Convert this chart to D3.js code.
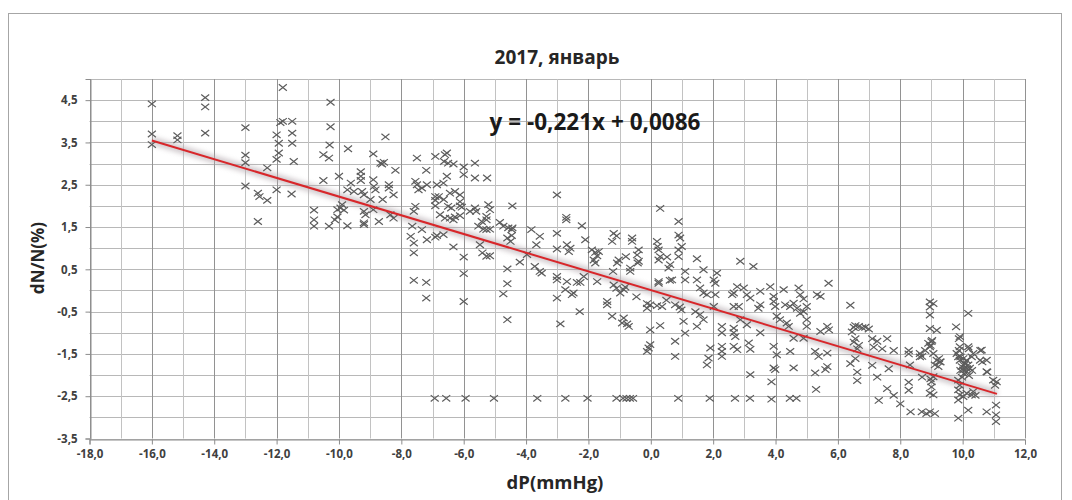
<!DOCTYPE html>
<html>
<head>
<meta charset="utf-8">
<script src="https://cdn.jsdelivr.net/npm/d3@7"></script>
<style>
  body { margin: 0; background: #fff; }
  svg { display: block; }
  .tick text { font-family: "Open Sans", sans-serif; font-weight: bold; font-size: 11.5px; fill: #404040; }
</style>
</head>
<body>
<div id="chart"></div>
<script>
// chart text
var title = "2017, январь";
var xTitle = "dP(mmHg)";
var yTitle = "dN/N(%)";
var equation = "y = -0,221x + 0,0086";

// linear trend
var slope = -0.221;
var intercept = 0.0086;
var trendRange = [-16, 11.1];

// tick labels
var xTicks = [-18, -16, -14, -12, -10, -8, -6, -4, -2, 0, 2, 4, 6, 8, 10, 12];
var yTicks = [-3.5, -2.5, -1.5, -0.5, 0.5, 1.5, 2.5, 3.5, 4.5];

// scatter points [dP, dN/N]
var points = [
  // left part
  [-16,4.41],[-16,3.70],[-16,3.45],[-15.18,3.66],[-15.18,3.56],[-14.29,4.56],[-14.29,4.34],[-14.29,3.72],
  [-13,3.85],[-13,3.2],[-13,3.02],[-13,2.47],[-12.6,2.3],[-12.3,2.9],[-12,3.1],[-12,3.68],[-12,2.38],
  [-11.93,3.48],[-11.93,3.25],[-11.88,3.97],[-11.8,4.8],[-11.8,4.0],[-11.5,4.0],[-11.5,3.72],[-11.5,3.48],
  [-11.45,3.05],[-11.52,2.28],[-10.27,4.45],[-10.27,3.87],[-12.55,2.22],[-12.3,2.13],[-12.6,1.63],
  // -11 .. -3
  [-10.8,1.9],[-10.8,1.67],[-10.8,1.52],[-10.32,1.52],[-10.5,3.21],[-10.32,3.13],[-10.3,3.44],[-10.5,2.6],
  [-10,2.7],[-10.13,1.67],[-10.05,1.74],[-10.05,1.91],[-9.95,1.95],[-9.9,2.03],[-9.84,1.9],[-9.73,1.53],
  [-9.71,3.35],[-9.73,2.38],[-9.62,2.54],[-9.52,2.34],[-9.3,2.81],[-9.3,2.7],[-9.3,2.6],[-9.26,2.34],
  [-9.2,2.26],[-9.2,1.87],[-9.15,1.79],[-9.2,1.6],[-9.2,1.56],[-8.99,2.15],[-8.9,3.23],[-8.9,2.62],
  [-8.88,2.46],[-8.83,2.38],[-8.9,1.91],[-8.72,1.63],[-8.67,3.01],[-8.6,2.15],[-8.62,2.99],[-8.56,3.03],
  [-8.51,3.63],[-8.4,2.5],[-8.4,2.42],[-8.25,2.26],[-8.19,2.84],[-8.35,1.79],[-8.25,1.71],
  [-7.5,3.13],[-7.2,2.84],[-7.55,2.58],[-7.5,2.5],[-7.34,2.42],[-7.45,2.38],[-7.18,2.5],[-6.91,3.17],
  [-6.6,3.21],[-6.54,3.25],[-6.63,3.05],[-6.5,3.01],[-6.33,2.99],[-6.0,2.92],[-6.0,2.74],[-5.64,3.01],
  [-5.64,2.66],[-5.25,2.66],[-6.54,2.7],[-6.65,2.54],[-6.86,2.5],
  [-6.91,2.22],[-6.91,2.13],[-6.91,2.0],[-6.8,2.22],[-6.64,2.15],[-6.44,2.3],[-6.28,2.34],[-6.12,2.26],
  [-6.12,2.1],[-6.12,2.0],[-6.06,1.97],[-6.5,1.99],[-6.4,1.95],
  [-6.76,1.79],[-6.6,1.71],[-6.44,1.71],[-6.28,1.74],[-6.33,1.67],[-6.12,1.77],[-5.8,1.87],[-5.64,1.95],
  [-5.6,1.87],[-5.21,2.03],[-5.27,1.75],[-5.27,1.67],[-5.42,1.63],[-5.53,1.52],[-5.16,1.91],[-4.44,2.0],
  [-7.55,1.99],[-7.6,1.87],[-7.65,1.52],[-7.34,1.44],[-7.7,1.28],[-7.6,1.12],[-7.6,0.89],[-7.18,1.2],
  [-6.91,1.26],[-6.86,1.3],[-6.65,1.32],[-6.33,1.03],[-6.0,0.79],[-6.0,0.4],[-6.0,-0.26],[-7.6,0.24],
  [-7.2,0.19],[-7.2,-0.18],
  [-5.37,1.45],[-5.27,1.44],[-5.16,1.45],[-5.48,1.08],[-5.4,0.89],[-5.27,0.81],[-5.16,0.82],[-4.84,1.61],
  [-4.73,1.52],[-4.57,1.48],[-4.46,1.44],[-4.46,1.3],[-4.6,1.24],[-4.5,1.16],[-4.44,1.48],[-4.6,0.51],
  [-4.6,0.16],[-4.73,-0.08],[-4.6,-0.69],
  [-3.83,1.44],[-3.56,1.28],[-3.67,1.08],[-4.2,0.67],[-3.97,0.85],[-3.72,0.57],[-3.56,0.45],[-3.5,0.41],
  // -3 .. 6
  [-3.01,2.26],[-2.71,1.73],[-2.71,1.67],[-3.01,1.35],[-3.01,0.98],[-3.01,0.33],[-3.01,0.25],[-3.01,-0.18],
  [-2.9,-0.79],[-2.69,1.08],[-2.58,1.0],[-2.63,0.92],[-2.21,1.53],[-2.1,1.2],[-2.69,0.21],[-2.37,0.19],
  [-2.26,0.19],[-2.48,-0.06],[-2.53,-0.1],[-2.74,0.02],[-2.28,-0.5],[-2.15,0.33],
  [-1.89,0.96],[-1.78,0.9],[-1.72,0.82],[-1.83,0.72],[-1.78,0.65],[-1.67,0.92],[-1.72,0.21],[-1.4,-0.26],
  [-1.4,-0.34],[-1.24,-0.61],[-1.19,1.35],[-1.1,1.29],[-1.24,1.16],[-1.03,0.72],[-1.08,0.65],[-1.21,0.45],
  [-0.8,0.8],[-0.42,0.65],[-0.66,0.53],[-0.87,0.02],[-0.98,-0.06],[-0.76,-0.79],[-0.87,-0.65],[-0.71,-0.85],
  [-0.92,-0.77],[-0.82,0.08],[-0.66,0.45],[-1.19,0.13],[-1.1,0.05],[-0.46,-0.15],
  [-0.6,1.24],[-0.6,1.16],[-0.39,0.96],[-0.44,0.84],[-0.39,0.69],
  [-0.12,-0.31],[-0.02,-0.34],[-0.12,-0.42],[0.2,-0.36],[-0.07,-1.36],[-0.02,-1.28],[-0.12,-1.44],
  [-0.02,-0.93],[0.3,-0.83],[0.5,-0.23],[0.61,0.24],[0.93,-0.39],[0.98,-0.46],
  [0.25,0.17],[0.25,0.21],[0.2,1.16],[0.22,1.04],[0.25,0.96],[0.3,0.8],[0.25,0.72],[0.3,1.94],[0.52,0.79],
  [0.62,0.61],[0.57,0.53],[0.68,0.25],[0.36,-0.38],[0.78,-0.34],[0.78,-1.2],[0.78,-1.56],[0.89,1.63],
  [0.89,1.31],[0.94,1.24],[0.99,1.04],[0.89,0.96],[0.89,0.8],[1.1,0.45],[1.1,0.25],[1.05,-0.73],[1.1,-1.01],
  [1.48,0.75],[1.69,0.49],[1.48,0.25],[1.58,0.06],[1.69,-0.06],[1.8,-0.1],[2.07,-0.1],[2.02,0.25],
  [2.07,0.17],[2.12,0.41],[1.43,-0.5],[1.58,-0.57],[1.69,-0.69],[1.48,-0.85],[1.85,-1.6],[1.8,-1.76],
  [1.91,-1.36],[2.28,-1.32],[2.28,-1.44],[2.28,-1.56],[2.28,-1.0],[2.28,-0.85],[2.02,-0.38],
  [2.87,0.69],[3.29,0.57],[2.66,-0.06],[2.61,-0.1],[2.77,0.09],[2.98,0.06],[3.08,-0.1],[3.19,-0.18],
  [2.66,-0.38],[2.82,-0.38],[2.87,-0.69],[2.66,-0.89],[2.66,-1.0],[2.71,-1.09],[2.66,-1.32],[2.77,-1.4],
  [3.14,-1.24],[3.19,-1.39],[3.19,-1.99],[3.08,-0.81],
  [3.51,-0.02],[3.83,0.09],[3.51,-0.34],[3.45,-0.42],[3.51,-1.0],[3.94,-0.14],[3.94,-0.26],[3.99,-0.38],
  [4.04,-0.61],[4.14,-0.69],[4.36,-0.77],[3.94,-1.32],[4.04,-1.52],[3.94,-1.83],[3.99,-1.87],[4.26,0.02],
  [4.31,-0.34],[4.47,-0.38],[4.58,-0.3],[4.69,-0.42],[4.79,-0.54],[4.9,-0.5],[4.74,0.06],[4.79,-0.1],
  [4.9,-0.2],[5.0,-0.38],[4.42,-0.85],[4.58,-1.13],[4.47,-1.44],[4.58,-1.83],[5.0,-0.85],[5.0,-0.69],
  [5.33,-0.1],[5.44,-0.14],[5.7,0.17],[5.27,-1.44],[5.38,-1.56],[5.27,-1.95],[5.66,-1.48],[5.66,-1.8],
  [5.6,-1.87],[5.66,-0.85],[5.71,-0.93],[5.44,-0.97],[4.9,-1.13],[3.87,-2.16],[5.3,-2.34],
  // bottom row near -2,5
  [-6.93,-2.55],[-6.56,-2.55],[-5.94,-2.55],[-5.03,-2.55],[-3.64,-2.55],[-2.74,-2.55],[-2.03,-2.55],
  [-1.1,-2.55],[-0.89,-2.55],[-0.78,-2.55],[-0.67,-2.55],[-0.57,-2.55],[0.88,-2.55],[1.89,-2.55],
  [2.7,-2.55],[3.18,-2.55],[3.87,-2.57],[4.46,-2.55],[4.67,-2.55],
  // 6 .. 8,5
  [6.4,-0.35],[6.51,-0.87],[6.56,-0.83],[6.67,-0.85],[6.78,-0.88],[6.88,-0.87],[6.99,-0.91],[6.45,-0.98],
  [6.56,-1.14],[6.51,-1.22],[6.67,-1.3],[6.62,-1.38],[6.56,-1.61],[6.4,-1.73],[6.62,-1.93],[6.62,-2.13],
  [7.1,-1.14],[7.26,-1.2],[7.58,-1.14],[7.15,-1.34],[7.42,-1.38],[7.79,-1.42],[7.1,-1.77],[7.26,-2.05],
  [7.63,-1.85],[7.58,-2.32],[7.79,-2.48],[7.31,-2.6],[8.0,-2.68],[8.27,-1.42],[8.27,-1.5],[8.27,-2.17],
  [8.27,-2.36],[8.33,-2.87],[8.31,-1.76],
  // 8,5 .. 11
  [8.63,-1.49],[8.69,-2.87],[8.84,-2.91],[8.95,-2.87],[9.11,-2.91],
  [8.95,-0.27],[9.06,-0.31],[8.95,-0.39],[8.95,-0.58],[8.95,-0.9],[9.17,-0.94],[8.9,-1.25],[9.0,-1.21],
  [8.95,-1.33],[9.06,-1.49],[9.17,-1.65],[9.27,-1.69],[9.11,-1.76],[9.22,-1.8],[8.63,-1.57],[9.06,-2.04],
  [9.0,-2.16],[9.0,-2.28],[8.95,-2.43],[9.06,-2.47],[8.7,-1.56],[8.8,-1.42],[8.97,-1.3],[9.02,-1.18],
  [8.7,-2.05],[8.97,-2.09],[9.24,-1.61],[9.29,-1.69],
  [9.79,-0.86],[10.18,-0.54],[9.91,-1.09],[9.91,-1.33],[9.81,-1.49],[9.86,-1.57],[9.91,-1.65],[10.02,-1.61],
  [10.13,-1.65],[10.07,-1.72],[10.18,-1.76],[9.97,-1.8],[10.02,-1.88],[10.13,-1.92],[10.23,-1.84],
  [10.29,-1.57],[10.34,-1.49],[10.18,-1.33],[10.61,-1.41],[10.56,-1.65],[10.77,-1.65],[10.77,-1.92],
  [9.86,-2.12],[9.91,-2.24],[9.86,-2.35],[9.91,-2.47],[9.86,-2.59],[10.02,-2.51],[10.13,-2.43],
  [10.29,-2.47],[10.34,-2.39],[10.18,-2.83],[9.86,-3.02],
  [9.93,-1.57],[10.04,-1.77],[10.14,-1.85],[10.3,-1.89],[9.93,-1.89],[10.04,-1.97],[10.2,-2.01],
  [9.98,-2.05],[10.79,-1.93],[10.63,-1.69],[10.41,-2.48],[9.88,-1.42],[10.2,-1.38],[10.57,-1.42],[9.88,-1.14],
  [10.98,-2.12],[11.09,-2.16],[11.04,-2.24],[10.77,-2.87],[11.07,-2.71],[11.07,-2.94],[11.07,-3.1]
];

var width = 1072, height = 500;

var svg = d3.select("#chart").append("svg")
    .attr("width", width)
    .attr("height", height);

// outer chart frame
svg.append("rect")
    .attr("x", 8.5).attr("y", 13.5)
    .attr("width", 1053).attr("height", 500)
    .attr("fill", "#fff")
    .attr("stroke", "#a6a6a6");

var x = d3.scaleLinear().domain([-18, 12]).range([89.5, 1025]);
var y = d3.scaleLinear().domain([-3.5, 5]).range([438.5, 79]);

var fmt = function(d) { return d3.format(".1f")(d).replace(".", ",").replace("−", "-"); };

// grid
var grid = svg.append("g");
grid.selectAll("line.h")
    .data(d3.range(-3.5, 5.01, 0.5))
    .enter().append("line")
    .attr("x1", x(-18)).attr("x2", x(12))
    .attr("y1", function(d) { return Math.round(y(d)) + 0.5; })
    .attr("y2", function(d) { return Math.round(y(d)) + 0.5; })
    .attr("stroke", "#b8b8b8");
grid.selectAll("line.v")
    .data(d3.range(-18, 12.01, 1))
    .enter().append("line")
    .attr("y1", y(-3.5)).attr("y2", y(5))
    .attr("x1", function(d) { return Math.round(x(d)) + 0.5; })
    .attr("x2", function(d) { return Math.round(x(d)) + 0.5; })
    .attr("stroke", function(d) { return d % 2 === 0 ? "#929292" : "#c2c2c2"; });

// axes
var xAxis = svg.append("g")
    .attr("transform", "translate(0," + (Math.round(y(-3.5)) + 0.5) + ")")
    .call(d3.axisBottom(x).tickValues(xTicks).tickFormat(fmt).tickSize(5).tickPadding(5));
var yAxis = svg.append("g")
    .attr("transform", "translate(" + (Math.round(x(-18)) + 0.5) + ",0)")
    .call(d3.axisLeft(y).tickValues(yTicks).tickFormat(fmt).tickSize(5).tickPadding(8));
[xAxis, yAxis].forEach(function(a) {
  a.select(".domain").attr("stroke", "#8c8c8c");
  a.selectAll(".tick line").attr("stroke", "#8c8c8c");
});

// trend line with soft glow
var defs = svg.append("defs");
defs.append("filter").attr("id", "glow")
    .attr("x", "-10%").attr("y", "-50%").attr("width", "120%").attr("height", "200%")
    .append("feGaussianBlur").attr("stdDeviation", 2.5);

var trend = trendRange.map(function(v) { return [v, slope * v + intercept]; });
var lineGen = d3.line().x(function(d) { return x(d[0]); }).y(function(d) { return y(d[1]); });

svg.append("path")
    .datum(trend)
    .attr("d", lineGen)
    .attr("stroke", "#b3a9ae")
    .attr("stroke-width", 8)
    .attr("opacity", 0.6)
    .attr("filter", "url(#glow)")
    .attr("fill", "none");

// points as x marks
var s = 4;
svg.append("g").selectAll("path")
    .data(points)
    .enter().append("path")
    .attr("d", function(d) {
      var cx = x(d[0]), cy = y(d[1]);
      return "M" + (cx - s) + "," + (cy - s * 0.8) + "L" + (cx + s) + "," + (cy + s * 0.8) +
             "M" + (cx - s) + "," + (cy + s * 0.8) + "L" + (cx + s) + "," + (cy - s * 0.8);
    })
    .attr("stroke", "#5c5c5c")
    .attr("stroke-width", 1.2)
    .attr("fill", "none");

svg.append("path")
    .datum(trend)
    .attr("d", lineGen)
    .attr("stroke", "#d8262a")
    .attr("stroke-width", 2)
    .attr("fill", "none");

// texts
svg.append("text")
    .attr("x", 557).attr("y", 64)
    .attr("text-anchor", "middle")
    .attr("font-family", "Open Sans, sans-serif")
    .attr("font-weight", "bold")
    .attr("font-size", 19)
    .attr("fill", "#262626")
    .text(title);

svg.append("text")
    .attr("x", 595).attr("y", 130)
    .attr("text-anchor", "middle")
    .attr("font-family", "Open Sans, sans-serif")
    .attr("font-weight", "bold")
    .attr("font-size", 22.5)
    .attr("fill", "#1a1a1a")
    .text(equation);

svg.append("text")
    .attr("x", 555).attr("y", 489)
    .attr("text-anchor", "middle")
    .attr("font-family", "Open Sans, sans-serif")
    .attr("font-weight", "bold")
    .attr("font-size", 18.5)
    .attr("fill", "#262626")
    .text(xTitle);

svg.append("text")
    .attr("transform", "translate(44,258) rotate(-90)")
    .attr("text-anchor", "middle")
    .attr("font-family", "Open Sans, sans-serif")
    .attr("font-weight", "bold")
    .attr("font-size", 17)
    .attr("fill", "#262626")
    .text(yTitle);
</script>
</body>
</html>
